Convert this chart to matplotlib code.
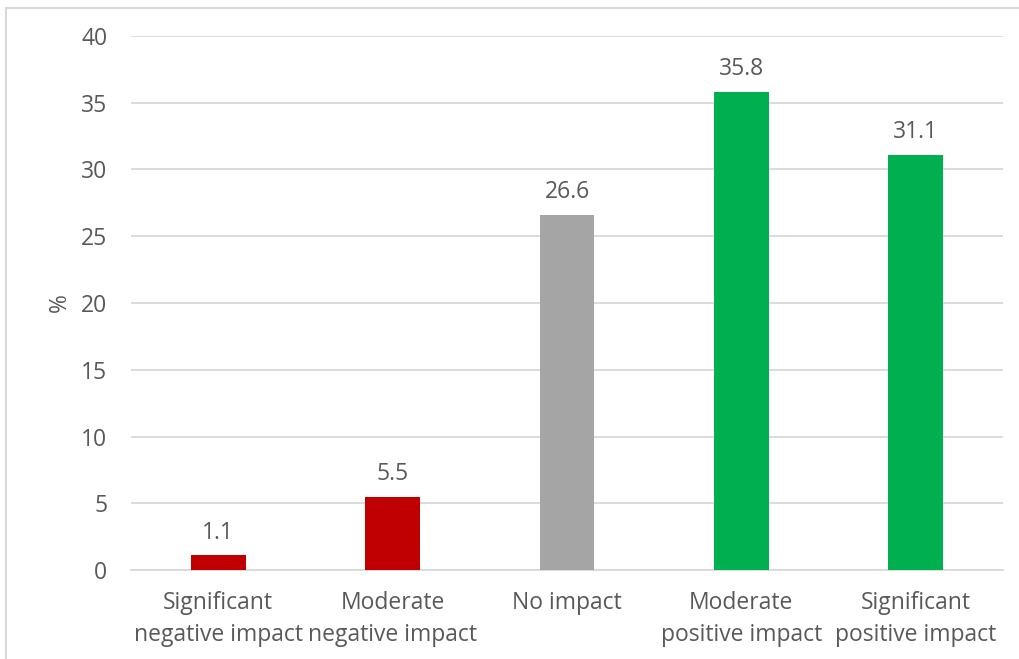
import matplotlib
matplotlib.use("Agg")
import matplotlib.pyplot as plt
from matplotlib.patches import Rectangle

categories = ["Significant\nnegative impact", "Moderate\nnegative impact", "No impact",
              "Moderate\npositive impact", "Significant\npositive impact"]
values = [1.1, 5.5, 26.6, 35.8, 31.1]
colors = ["#C00000", "#C00000", "#A5A5A5", "#00B050", "#00B050"]
yticks = [0, 5, 10, 15, 20, 25, 30, 35, 40]

plt.rcParams["font.family"] = ["Open Sans", "DejaVu Sans"]
text_color = "#595959"
grid_color = "#D9D9D9"
fs = 16.5

W, H = 1019, 659
fig = plt.figure(figsize=(W / 100, H / 100), dpi=100)
ax = fig.add_axes([131 / W, 1 - 570 / H, (1003 - 131) / W, (570 - 36) / H])

x = list(range(len(categories)))
bars = ax.bar(x, values, width=0.315, color=colors, zorder=3)
for xi, v in zip(x, values):
    ax.text(xi, v + 0.8, f"{v:.1f}", ha="center", va="bottom",
            fontsize=fs, color=text_color)

ax.set_xlim(-0.5, len(categories) - 0.5)
ax.set_ylim(0, 40)
ax.set_yticks(yticks)
ax.set_yticklabels([str(t) for t in yticks])
ax.set_xticks(x)
ax.set_xticklabels(categories, fontsize=fs, color=text_color, linespacing=1.45)
ax.tick_params(axis="y", length=0, pad=17, labelsize=fs, labelcolor=text_color)
ax.tick_params(axis="x", length=0, pad=15)

ax.grid(axis="y", color=grid_color, linewidth=1.3, zorder=0)
for s in ["top", "right", "left"]:
    ax.spines[s].set_visible(False)
ax.spines["bottom"].set_color(grid_color)
ax.spines["bottom"].set_linewidth(1.3)

ax.set_ylabel("%", fontsize=fs, color=text_color, labelpad=7)

# light frame around the chart area
fig.patches.append(Rectangle((6 / W, -0.1), 1.2, 1 - 8 / H + 0.1,
                             transform=fig.transFigure, fill=False,
                             edgecolor="#D9D9D9", linewidth=1.5))

fig.savefig("out.png", dpi=100)
